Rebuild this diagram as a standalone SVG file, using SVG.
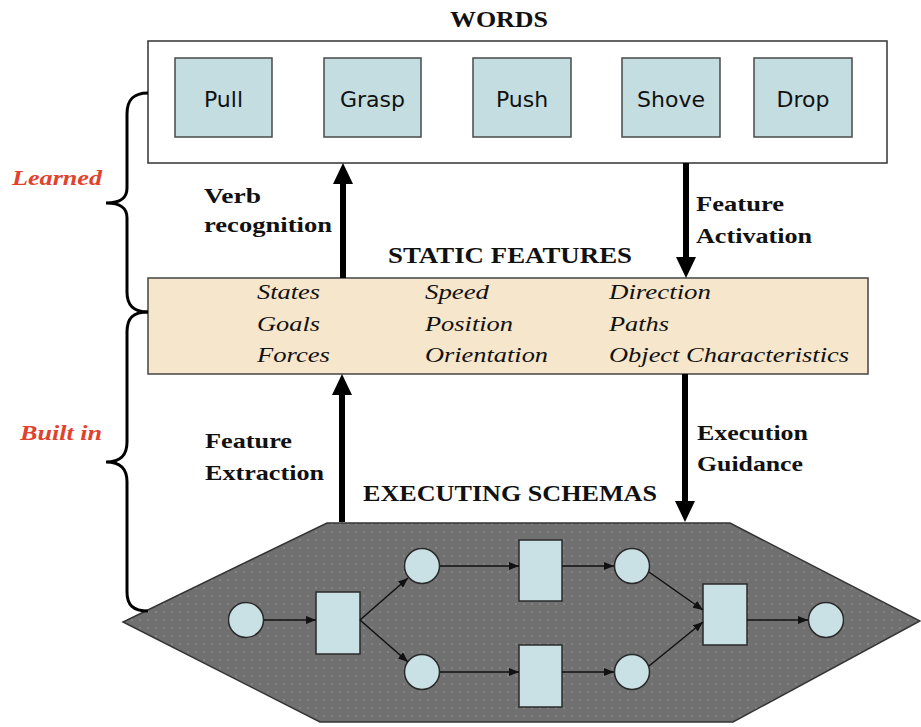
<svg xmlns="http://www.w3.org/2000/svg" width="921" height="727" viewBox="0 0 921 727">
<style>
.title{font-family:"Liberation Serif","Times New Roman",serif;font-weight:bold;font-size:24px;fill:#111}
.lbl{font-family:"Liberation Serif","Times New Roman",serif;font-weight:bold;font-size:22px;fill:#111}
.side{font-family:"Liberation Serif","Times New Roman",serif;font-weight:bold;font-style:italic;font-size:22px;fill:#e0422e}
.feat{font-family:"Liberation Serif","Times New Roman",serif;font-style:italic;font-size:21px;fill:#111}
.word{font-family:"DejaVu Sans",Verdana,sans-serif;font-size:22px;fill:#111;text-anchor:middle}
.wbox{fill:#c4dde0;stroke:#4a4a4a;stroke-width:1.5}
.pn{fill:#c9e1e5;stroke:#2a2a2a;stroke-width:1.5}
.thin{stroke:#111;stroke-width:1.5;fill:none;marker-end:url(#ah)}
.thick{stroke:#000;stroke-width:6;fill:none}
.brace{stroke:#000;stroke-width:3;fill:none}
</style>
<defs>
<marker id="ah" markerUnits="userSpaceOnUse" markerWidth="10" markerHeight="8" refX="10" refY="4" orient="auto">
<path d="M0,0 L10,4 L0,8 Z" fill="#111"/>
</marker>
<pattern id="dots" width="8" height="8" patternUnits="userSpaceOnUse">
<rect width="8" height="8" fill="#707070"/>
<circle cx="4" cy="4" r="0.9" fill="#8c8c8c"/>
</pattern>
</defs>
<rect width="921" height="727" fill="#fff"/>

<g id="words">
<text class="title" x="450" y="27" textLength="98" lengthAdjust="spacingAndGlyphs">WORDS</text>
<rect x="148" y="41" width="739" height="122" fill="#fff" stroke="#333" stroke-width="1.5"/>
</g>
<g id="word-pull"><rect class="wbox" x="175" y="58" width="97" height="79"/><text class="word" x="223.5" y="107">Pull</text></g>
<g id="word-grasp"><rect class="wbox" x="324" y="58" width="97" height="79"/><text class="word" x="372.5" y="107">Grasp</text></g>
<g id="word-push"><rect class="wbox" x="473" y="58" width="98" height="79"/><text class="word" x="522" y="107">Push</text></g>
<g id="word-shove"><rect class="wbox" x="622" y="58" width="98" height="79"/><text class="word" x="671" y="107">Shove</text></g>
<g id="word-drop"><rect class="wbox" x="754" y="58" width="98" height="79"/><text class="word" x="803" y="107">Drop</text></g>

<g id="static-features">
<text class="title" x="388" y="263" textLength="244" lengthAdjust="spacingAndGlyphs">STATIC FEATURES</text>
<rect x="148" y="278" width="720" height="96" fill="#f6e6cc" stroke="#444" stroke-width="1.5"/>
<text class="feat" x="257" y="299" textLength="63" lengthAdjust="spacingAndGlyphs">States</text>
<text class="feat" x="425" y="299" textLength="64" lengthAdjust="spacingAndGlyphs">Speed</text>
<text class="feat" x="609" y="299" textLength="102" lengthAdjust="spacingAndGlyphs">Direction</text>
<text class="feat" x="257" y="331" textLength="63" lengthAdjust="spacingAndGlyphs">Goals</text>
<text class="feat" x="425" y="331" textLength="88" lengthAdjust="spacingAndGlyphs">Position</text>
<text class="feat" x="609" y="331" textLength="60" lengthAdjust="spacingAndGlyphs">Paths</text>
<text class="feat" x="257" y="362" textLength="73" lengthAdjust="spacingAndGlyphs">Forces</text>
<text class="feat" x="425" y="362" textLength="123" lengthAdjust="spacingAndGlyphs">Orientation</text>
<text class="feat" x="609" y="362" textLength="240" lengthAdjust="spacingAndGlyphs">Object Characteristics</text>
</g>

<g id="executing-schemas">
<text class="title" x="363" y="501" textLength="294" lengthAdjust="spacingAndGlyphs">EXECUTING SCHEMAS</text>
<polygon points="327,523 730,523 920,621 733,722 320,722 123,622" fill="url(#dots)" stroke="#333" stroke-width="1.5"/>
</g>
<g id="p1"><circle class="pn" cx="246" cy="620" r="17.5"/></g>
<g id="t1"><rect class="pn" x="316" y="592" width="44" height="62"/></g>
<g id="p2"><circle class="pn" cx="422" cy="566" r="17.5"/></g>
<g id="p3"><circle class="pn" cx="422" cy="672" r="17.5"/></g>
<g id="t2"><rect class="pn" x="519" y="540" width="43" height="61"/></g>
<g id="t3"><rect class="pn" x="519" y="645" width="43" height="62"/></g>
<g id="p4"><circle class="pn" cx="632" cy="566" r="17.5"/></g>
<g id="p5"><circle class="pn" cx="632" cy="672" r="17.5"/></g>
<g id="t4"><rect class="pn" x="703" y="584" width="44" height="61"/></g>
<g id="p6"><circle class="pn" cx="826" cy="620" r="17.5"/></g>

<g id="labels">
<text class="side" x="12" y="185" textLength="90" lengthAdjust="spacingAndGlyphs">Learned</text>
<text class="side" x="20" y="440" textLength="82" lengthAdjust="spacingAndGlyphs">Built in</text>
<path class="brace" d="M148,93 C133,93 127,100 127,114 L127,188 C127,198 121,203 106,203 C121,203 127,208 127,218 L127,292 C127,305 133,312 148,312"/>
<path class="brace" d="M148,312 C133,312 127,318 127,332 L127,442 C127,455 121,462 106,462 C121,462 127,469 127,482 L127,592 C127,605 133,611 148,611"/>
</g>

<g id="connectors">
<line class="thick" x1="343" y1="278" x2="343" y2="182"/>
<polygon points="343,163 353,184 333,184"/>
<line class="thick" x1="686" y1="163" x2="686" y2="259"/>
<polygon points="686,278 696,257 676,257"/>
<line class="thick" x1="342" y1="522" x2="342" y2="392"/>
<polygon points="342,374 352,395 332,395"/>
<line class="thick" x1="685" y1="374" x2="685" y2="504"/>
<polygon points="685,522 695,501 675,501"/>
<text class="lbl" x="204" y="203" textLength="57" lengthAdjust="spacingAndGlyphs">Verb</text>
<text class="lbl" x="204" y="232" textLength="128" lengthAdjust="spacingAndGlyphs">recognition</text>
<text class="lbl" x="696" y="211" textLength="88" lengthAdjust="spacingAndGlyphs">Feature</text>
<text class="lbl" x="696" y="243" textLength="116" lengthAdjust="spacingAndGlyphs">Activation</text>
<text class="lbl" x="205" y="448" textLength="87" lengthAdjust="spacingAndGlyphs">Feature</text>
<text class="lbl" x="205" y="480" textLength="119" lengthAdjust="spacingAndGlyphs">Extraction</text>
<text class="lbl" x="697" y="440" textLength="111" lengthAdjust="spacingAndGlyphs">Execution</text>
<text class="lbl" x="697" y="471" textLength="106" lengthAdjust="spacingAndGlyphs">Guidance</text>
<line class="thin" x1="264" y1="620" x2="316" y2="620"/>
<line class="thin" x1="360" y1="620" x2="408" y2="578"/>
<line class="thin" x1="360" y1="620" x2="408" y2="662"/>
<line class="thin" x1="440" y1="566" x2="519" y2="566"/>
<line class="thin" x1="562" y1="566" x2="614" y2="566"/>
<line class="thin" x1="440" y1="672" x2="519" y2="672"/>
<line class="thin" x1="562" y1="672" x2="614" y2="672"/>
<line class="thin" x1="649" y1="572" x2="703" y2="610"/>
<line class="thin" x1="649" y1="666" x2="703" y2="622"/>
<line class="thin" x1="747" y1="620" x2="808" y2="620"/>
</g>
</svg>
